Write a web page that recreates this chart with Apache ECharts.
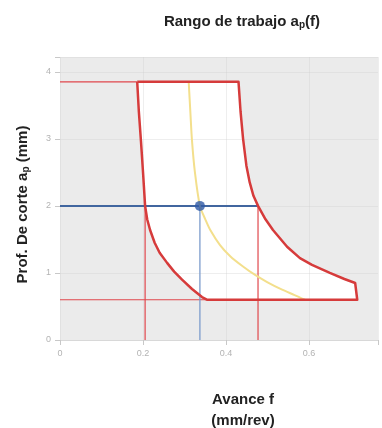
<!DOCTYPE html>
<html><head><meta charset="utf-8">
<script src="https://cdn.jsdelivr.net/npm/echarts@6/dist/echarts.min.js"></script>
<style>html,body{margin:0;padding:0;background:#fff}#c{width:382px;height:428px}</style>
</head><body><div id="c"></div>
<script>
// Working-range boundary (red outline)
var leftX  = [0.186, 0.190, 0.195, 0.200, 0.205, 0.210, 0.217, 0.228, 0.240, 0.258, 0.275, 0.294, 0.318, 0.342, 0.355];
var leftY  = [3.85,  3.40,  2.97,  2.50,  2.00,  1.80,  1.64,  1.45,  1.30,  1.15,  1.02,  0.90,  0.76,  0.64,  0.60];
var rightX = [0.430, 0.435, 0.441, 0.449, 0.457, 0.466, 0.477, 0.495, 0.513, 0.547, 0.578, 0.607, 0.650, 0.685, 0.711, 0.716];
var rightY = [3.85,  3.40,  3.00,  2.60,  2.35,  2.15,  2.00,  1.80,  1.64,  1.39,  1.22,  1.12,  1.00,  0.91,  0.85,  0.60];
// Yellow reference curve
var yelX = [0.310, 0.314, 0.318, 0.325, 0.337, 0.350, 0.362, 0.385, 0.410, 0.440, 0.470, 0.500, 0.535, 0.565, 0.590];
var yelY = [3.85,  3.40,  2.97,  2.50,  2.00,  1.80,  1.64,  1.42,  1.25,  1.10,  0.97,  0.86,  0.75,  0.67,  0.60];
// Guide lines
var apMax = 3.85, apMin = 0.60;
var fLeft = 0.205, fRight = 0.477, fOp = 0.337, apOp = 2.0;
var xTicks = [0, 0.2, 0.4, 0.6];
var yTicks = [0, 1, 2, 3, 4];

function pairs(xs, ys){ return xs.map(function(x,i){ return [x, ys[i]]; }); }
var poly = pairs(leftX, leftY).concat(pairs(rightX, rightY).reverse());
var outline = poly.concat([poly[0]]);

var FONT = '"Liberation Sans Narrow", "Liberation Sans", Arial, sans-serif';
var chart = echarts.init(document.getElementById('c'));
var red = '#d63b3b', redThin = '#e0474c', blue = '#41669f', blueThin = '#7c9ccc';
function seg(a, b, color, w, z){
  return {type:'line', data:[a,b], symbol:'none', lineStyle:{color:color, width:w}, z:z||2, silent:true, animation:false};
}
var subRich = {s:{fontFamily:FONT, fontWeight:'bold', fontSize:10, color:'#222', verticalAlign:'bottom', padding:[7,0,0,0]}};
chart.setOption({
  animation:false,
  title:[
    {text:'Rango de trabajo a{s|p}(f)', left:242, top:13, textAlign:'center', padding:0,
     textStyle:{fontFamily:FONT, fontWeight:'bold', fontSize:15, color:'#222', rich:subRich}},
    {text:'Avance f\n(mm/rev)', left:243, top:389, textAlign:'center', padding:0,
     textStyle:{fontFamily:FONT, fontWeight:'bold', fontSize:15, color:'#222', lineHeight:21}}
  ],
  grid:{left:60, right:4, top:57, bottom:88, show:true, backgroundColor:'#ebebeb', borderWidth:0},
  xAxis:{type:'value', min:0, max:0.766, interval:0.2, z:1.5,
    axisLine:{show:true, lineStyle:{color:'#d8d8d8'}},
    axisTick:{show:true, length:5, lineStyle:{color:'#c8c8c8'}},
    axisLabel:{color:'#b3b3b3', fontSize:9, margin:9, fontFamily:'Liberation Sans',
      formatter:function(v){ return xTicks.some(function(t){return Math.abs(t-v)<1e-6;}) ? String(v) : ''; }},
    splitLine:{show:true, lineStyle:{color:'rgba(205,205,205,0.35)'}}},
  yAxis:{type:'value', min:0, max:4.22, interval:1, z:1.5,
    name:'Prof. De corte a{s|p} (mm)', nameLocation:'middle', nameGap:29, nameRotate:90,
    nameTextStyle:{fontFamily:FONT, fontWeight:'bold', fontSize:15, color:'#222', padding:[0,12,0,0], rich:subRich},
    axisLine:{show:false},
    axisTick:{show:true, length:5, lineStyle:{color:'#c8c8c8'}},
    axisLabel:{color:'#b3b3b3', fontSize:9, margin:9, fontFamily:'Liberation Sans',
      formatter:function(v){ return yTicks.indexOf(v)>=0 ? String(v) : ''; }},
    splitLine:{show:true, lineStyle:{color:'rgba(205,205,205,0.35)'}}},
  series:[
    {type:'custom', z:1, silent:true, data:[[0,0]],
     renderItem:function(params, api){
       var pts = poly.map(function(p){ return api.coord(p); });
       return {type:'polygon', shape:{points:pts}, style:{fill:'#ffffff', stroke:'none'}};
     }},
    seg([0, apMax], [leftX[0], apMax], redThin, 1.2),
    seg([0, apMin], [rightX[rightX.length-1], apMin], redThin, 1.2),
    seg([fLeft, 0], [fLeft, apOp], redThin, 1.2),
    seg([fRight, 0], [fRight, apOp], redThin, 1.2),
    seg([fOp, 0], [fOp, apOp], blueThin, 1.3),
    seg([0, apOp], [fRight, apOp], blue, 2),
    {type:'line', data:pairs(yelX, yelY), symbol:'none', smooth:0.3,
     lineStyle:{color:'#f3df8c', width:2}, z:3, silent:true},
    {type:'line', data:outline, symbol:'none',
     lineStyle:{color:red, width:2.5, join:'round'}, z:4, silent:true},
    {type:'scatter', data:[[fOp, apOp]], symbolSize:10, itemStyle:{color:'#2f5aa6'}, z:5, silent:true}
  ]
});
</script></body></html>
